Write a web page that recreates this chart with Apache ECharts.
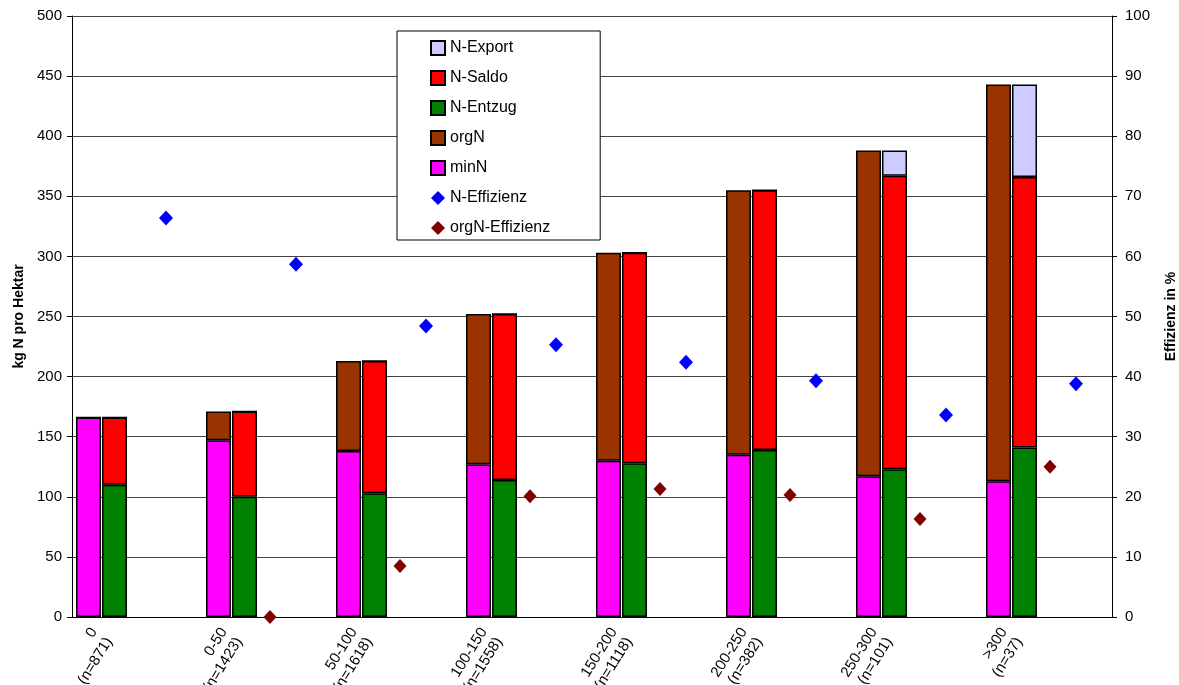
<!DOCTYPE html>
<html>
<head>
<meta charset="utf-8">
<script src="https://cdn.jsdelivr.net/npm/echarts@6/dist/echarts.min.js"></script>
<style>
html,body{margin:0;padding:0;background:#fff;}
#chart{width:1179px;height:685px;}
</style>
</head>
<body>
<div id="chart"></div>
<script>
const ranges = ['0', '0-50', '50-100', '100-150', '150-200', '200-250', '250-300', '>300'];
const counts = [871, 1423, 1618, 1558, 1118, 382, 101, 37];
const minN = [166, 147, 138, 127, 130, 135, 117, 113];
const orgN = [0, 24, 75, 125, 173, 220, 271, 330];
const nEntzug = [110, 100, 103, 114, 128, 139, 123, 141];
const nSaldo = [56, 71, 110, 138, 175, 216, 244, 225];
const nExport = [0, 0, 0, 0, 0, 0, 21, 77];
const nEffizienz = [66.4, 58.7, 48.4, 45.3, 42.4, 39.3, 33.6, 38.8];
const orgNEffizienz = [null, 0, 8.5, 20.1, 21.3, 20.3, 16.3, 25.0];
const leftTicks = {min: 0, max: 500, interval: 50};
const rightTicks = {min: 0, max: 100, interval: 10};

const categories = ranges.map((r, i) => r + '\n(n=' + counts[i] + ')');
const FONT = "'Liberation Sans', Arial, sans-serif";
const chart = echarts.init(document.getElementById('chart'), null, {renderer: 'canvas'});

const border = {borderColor: '#000', borderWidth: 1.5};
const hiddenCat = {type: 'category', data: categories, show: false};
const hiddenY = (idx, t) => ({type: 'value', gridIndex: idx, min: t.min, max: t.max, interval: t.interval, show: false});
const gridBase = {top: 16, bottom: 68, containLabel: false, outerBoundsMode: 'none'};

const option = {
  backgroundColor: '#fff',
  animation: false,
  textStyle: {fontFamily: FONT},
  grid: [
    Object.assign({left: 72, right: 67}, gridBase),     // axes frame
    Object.assign({left: 36.5, right: 102.5}, gridBase), // bars
    Object.assign({left: 101, right: 38}, gridBase),     // N-Effizienz
    Object.assign({left: 75, right: 64}, gridBase)       // orgN-Effizienz
  ],
  xAxis: [
    {type: 'category', gridIndex: 0, data: categories, boundaryGap: true,
     axisLine: {show: true, lineStyle: {color: '#000', width: 1}},
     axisTick: {show: false}, axisLabel: {show: false}, splitLine: {show: false}},
    {type: 'category', gridIndex: 1, data: categories,
     axisLine: {show: false}, axisTick: {show: false},
     axisLabel: {show: true, interval: 0, rotate: 58, margin: 17, color: '#000',
                 fontSize: 15, fontFamily: FONT, lineHeight: 18}},
    Object.assign({gridIndex: 2}, hiddenCat),
    Object.assign({gridIndex: 3}, hiddenCat)
  ],
  yAxis: [
    {type: 'value', gridIndex: 0, position: 'left', min: leftTicks.min, max: leftTicks.max, interval: leftTicks.interval,
     name: 'kg N pro Hektar', nameLocation: 'middle', nameGap: 46, nameRotate: 90,
     nameTextStyle: {fontWeight: 'bold', fontSize: 14, color: '#000', fontFamily: FONT},
     axisLine: {show: true, lineStyle: {color: '#000', width: 1}},
     axisTick: {show: true, length: 5, inside: false, lineStyle: {color: '#000'}},
     axisLabel: {color: '#000', fontSize: 15, margin: 10, fontFamily: FONT},
     splitLine: {show: true, lineStyle: {color: '#444', width: 1}}},
    {type: 'value', gridIndex: 0, position: 'right', min: rightTicks.min, max: rightTicks.max, interval: rightTicks.interval,
     name: 'Effizienz in %', nameLocation: 'middle', nameGap: 52, nameRotate: 90,
     nameTextStyle: {fontWeight: 'bold', fontSize: 14, color: '#000', fontFamily: FONT},
     axisLine: {show: true, lineStyle: {color: '#000', width: 1}},
     axisTick: {show: true, length: 5, inside: false, lineStyle: {color: '#000'}},
     axisLabel: {color: '#000', fontSize: 15, margin: 13, fontFamily: FONT},
     splitLine: {show: false}},
    hiddenY(1, leftTicks),
    hiddenY(2, rightTicks),
    hiddenY(3, rightTicks)
  ],
  legend: {
    orient: 'vertical', left: 397, top: 31,
    data: [
      {name: 'N-Export', icon: 'rect'}, {name: 'N-Saldo', icon: 'rect'}, {name: 'N-Entzug', icon: 'rect'},
      {name: 'orgN', icon: 'rect'}, {name: 'minN', icon: 'rect'},
      {name: 'N-Effizienz', icon: 'diamond'}, {name: 'orgN-Effizienz', icon: 'diamond'}
    ],
    backgroundColor: '#fff', borderColor: '#000', borderWidth: 1,
    padding: [9, 50, 4, 33], itemGap: 14, itemWidth: 14, itemHeight: 14,
    textStyle: {fontSize: 16, color: '#000', fontFamily: FONT},
    selectedMode: false
  },
  series: [
    {name: 'minN', type: 'bar', xAxisIndex: 1, yAxisIndex: 2, stack: 'input', data: minN,
     barWidth: 25, barGap: '4%', itemStyle: Object.assign({color: '#FF00FF'}, border)},
    {name: 'orgN', type: 'bar', xAxisIndex: 1, yAxisIndex: 2, stack: 'input', data: orgN,
     barWidth: 25, barGap: '4%', itemStyle: Object.assign({color: '#993300'}, border)},
    {name: 'N-Entzug', type: 'bar', xAxisIndex: 1, yAxisIndex: 2, stack: 'output', data: nEntzug,
     barWidth: 25, barGap: '4%', itemStyle: Object.assign({color: '#008000'}, border)},
    {name: 'N-Saldo', type: 'bar', xAxisIndex: 1, yAxisIndex: 2, stack: 'output', data: nSaldo,
     barWidth: 25, barGap: '4%', itemStyle: Object.assign({color: '#FF0000'}, border)},
    {name: 'N-Export', type: 'bar', xAxisIndex: 1, yAxisIndex: 2, stack: 'output', data: nExport,
     barWidth: 25, barGap: '4%', itemStyle: Object.assign({color: '#CCCCFF'}, border)},
    {name: 'N-Effizienz', type: 'scatter', xAxisIndex: 2, yAxisIndex: 3, data: nEffizienz,
     symbol: 'diamond', symbolSize: [14, 15], z: 5, itemStyle: {color: '#0000FF', opacity: 1}},
    {name: 'orgN-Effizienz', type: 'scatter', xAxisIndex: 3, yAxisIndex: 4, data: orgNEffizienz,
     symbol: 'diamond', symbolSize: [13, 14], z: 5, itemStyle: {color: '#800000', opacity: 1}}
  ]
};
chart.setOption(option);
</script>
</body>
</html>
